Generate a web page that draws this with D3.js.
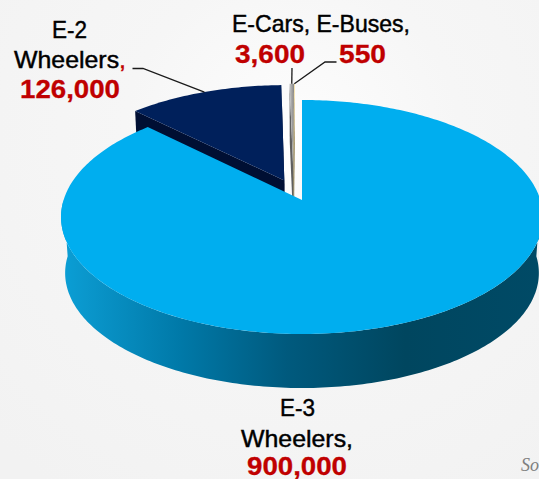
<!DOCTYPE html>
<html lang="en">
<head>
<meta charset="utf-8">
<script src="https://d3js.org/d3.v7.min.js"></script>
<style>
    html, body { margin: 0; padding: 0; background: #f5f5f5; overflow: hidden; }
    text { font-family: "Liberation Sans", sans-serif; }
    .name { font-size: 24px; fill: #000; stroke: #000; stroke-width: .45px; }
    .num { font-size: 26px; font-weight: bold; fill: #c00000; stroke: #c00000; stroke-width: .3px; }
</style>
</head>
<body>
<div id="final"></div>
<script>
    const categories = ["E-3 Wheelers", "E-2 Wheelers", "E-Cars", "E-Buses"]
    const values = [900000, 126000, 3600, 550]
    const valueLabels = ["900,000", "126,000", "3,600", "550"]
    const colors = ["#00aeef", "#00205b", "url(#gray)", "#f2d98c"]
    const wallColors = ["#005a80", "#000f33", "#5f5f5f", "#9a8a5a"]
    // how far each slice is pulled out of the pie, in pie radius units
    const sliceShift = [[0, 0], [-0.076, -0.175], [-0.036, -0.19], [-0.036, -0.19]]

    const width = 539
    const height = 479

    // perspective of the tilted disc: unit disc -> ellipse
    const cx = 302
    const cy = 217
    const persp = -17 / 117
    const xScale = d3.scaleLinear().domain([-1, 1]).range([-238.4, 238.4])
    const yScale = d3.scaleLinear().domain([-1, 1]).range([-117 - 17, 117 - 17])
    const lowerScale = 0.983
    const lowerDrop = 56

    function project(u, v, lower) {
        const den = 1 + persp * v
        const k = lower ? lowerScale : 1
        return [
            cx + k * xScale(u) / den,
            cy + k * yScale(v) / den + (lower ? lowerDrop : 0)
        ]
    }

    function rimPoint(angle, shift, lower) {
        return project(Math.sin(angle) + shift[0], -Math.cos(angle) + shift[1], lower)
    }

    const slices = d3.pie().sort(null).value(d => d)(values)
    const line = d3.line()

    function angleSteps(a0, a1) {
        const n = Math.max(2, Math.ceil((a1 - a0) * 60))
        return d3.range(n + 1).map(i => a0 + (a1 - a0) * i / n)
    }

    const svg = d3.select("div#final").append("svg")
        .attr("width", width)
        .attr("height", height)
        .style("display", "block")

    const defs = svg.append("defs")
    const bg = defs.append("radialGradient")
        .attr("id", "bg")
        .attr("gradientUnits", "userSpaceOnUse")
        .attr("cx", 292).attr("cy", 140).attr("r", 420)
    bg.append("stop").attr("offset", 0).attr("stop-color", "#ffffff")
    bg.append("stop").attr("offset", 0.12).attr("stop-color", "#fbfbfb")
    bg.append("stop").attr("offset", 0.4).attr("stop-color", "#f6f6f6")
    bg.append("stop").attr("offset", 1).attr("stop-color", "#f2f2f2")

    const sideGrad = defs.append("linearGradient")
        .attr("id", "side")
        .attr("gradientUnits", "userSpaceOnUse")
        .attr("x1", 61).attr("x2", 539).attr("y1", 0).attr("y2", 0)
    const sideStops = [[0, "#0a9fd6"], [0.05, "#0a97cc"], [0.25, "#0079a8"], [0.47, "#005a7e"], [0.72, "#00465f"], [1, "#004a66"]]
    sideStops.forEach(s => sideGrad.append("stop").attr("offset", s[0]).attr("stop-color", s[1]))

    const grayGrad = defs.append("linearGradient")
        .attr("id", "gray")
        .attr("gradientUnits", "userSpaceOnUse")
        .attr("x1", 290).attr("x2", 295).attr("y1", 0).attr("y2", 0)
    grayGrad.append("stop").attr("offset", 0).attr("stop-color", "#bdbdbd")
    grayGrad.append("stop").attr("offset", 1).attr("stop-color", "#787878")

    svg.append("rect").attr("width", width).attr("height", height).attr("fill", "url(#bg)")

    // small exploded slices first, the big one covers their lower parts
    const order = [1, 2, 3, 0]
    order.forEach(i => {
        const d = slices[i]
        const shift = sliceShift[i]
        const apex = project(shift[0], shift[1], false)
        const apexLow = project(shift[0], shift[1], true)
        const rim = angleSteps(d.startAngle, d.endAngle)

        if (i == 0) {
            // outer wall, only the part that faces us
            const front = angleSteps(Math.PI / 2, 3 * Math.PI / 2)
            const pts = front.map(a => rimPoint(a, shift, false))
                .concat(front.slice().reverse().map(a => rimPoint(a, shift, true)))
            svg.append("path")
                .attr("d", line(pts) + "Z")
                .attr("fill", "url(#side)")
        } else {
            [d.startAngle, d.endAngle].forEach(a => {
                const pts = [rimPoint(a, shift, false), rimPoint(a, shift, true), apexLow, apex]
                svg.append("path")
                    .attr("d", line(pts) + "Z")
                    .attr("fill", wallColors[i])
            })
        }

        const top = [apex].concat(rim.map(a => rimPoint(a, shift, false)))
        svg.append("path")
            .attr("d", line(top) + "Z")
            .attr("fill", colors[i])
    })

    // leader lines from the labels to the middle of the rim
    const leaderStarts = [null, [[132.5, 68.5], [143, 68.5]], [[292, 68]], [[336.5, 62], [325, 62]]]
    leaderStarts.forEach((start, i) => {
        if (!start) return
        const d = slices[i]
        const end = rimPoint((d.startAngle + d.endAngle) / 2, sliceShift[i], false)
        svg.append("path")
            .attr("d", line(start.concat([end])))
            .attr("fill", "none")
            .attr("stroke", "#1a1a1a")
            .attr("stroke-width", 1.3)
    })

    function label(cls, x, y, str, w) {
        return svg.append("text").attr("class", cls)
            .attr("x", x).attr("y", y)
            .attr("text-anchor", "middle")
            .attr("textLength", w)
            .attr("lengthAdjust", "spacingAndGlyphs")
            .text(str)
    }

    label("name", 69.5, 38, "E-2", 35)
    const w2 = label("name", 70, 68, "Wheelers", 112)
    w2.append("tspan").attr("fill", "#c00000").attr("stroke", "#c00000").text(",")
    label("num", 70, 98, valueLabels[1], 100)

    label("name", 321, 32, "E-Cars, E-Buses,", 178)
    label("num", 270, 63, valueLabels[2], 70)
    label("num", 362.5, 63, valueLabels[3], 47)

    label("name", 297.5, 416, "E-3", 35)
    label("name", 297, 447, "Wheelers,", 112)
    label("num", 297, 475, valueLabels[0], 100)

    svg.append("text")
        .attr("x", 521).attr("y", 471)
        .attr("fill", "#7f7f7f")
        .style("font-family", "'Liberation Serif', serif")
        .style("font-style", "italic")
        .style("font-size", "18px")
        .text("So")
</script>
</body>
</html>
